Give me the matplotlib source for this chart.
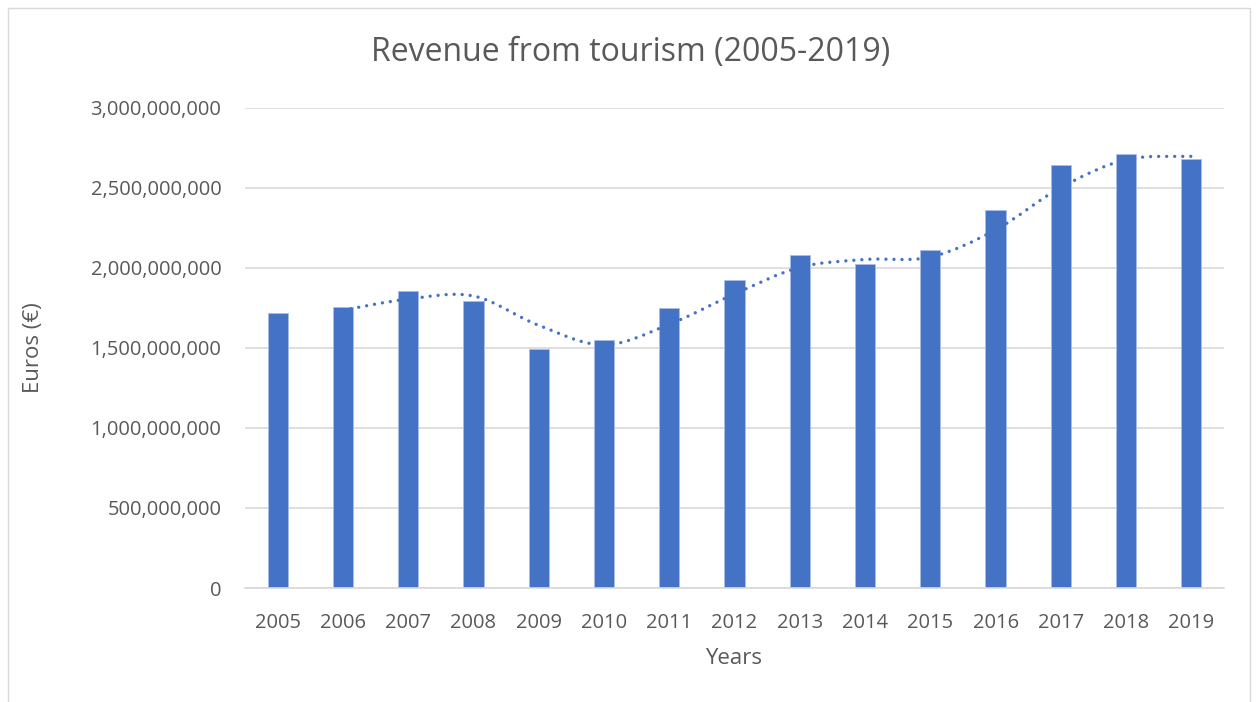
import numpy as np
import matplotlib.pyplot as plt
from matplotlib.patches import PathPatch, Rectangle
from matplotlib.path import Path
from matplotlib.ticker import FuncFormatter

# valeurs (euros)
years = [2005, 2006, 2007, 2008, 2009, 2010, 2011, 2012,
         2013, 2014, 2015, 2016, 2017, 2018, 2019]
revenue = [1.717e9, 1.752e9, 1.856e9, 1.790e9, 1.490e9, 1.546e9, 1.746e9, 1.925e9,
           2.079e9, 2.023e9, 2.110e9, 2.362e9, 2.639e9, 2.710e9, 2.680e9]
yticks = [0, 500e6, 1000e6, 1500e6, 2000e6, 2500e6, 3000e6]

blue = "#4472C4"
grey_txt = "#595959"
plt.rcParams['font.family'] = ['Open Sans', 'DejaVu Sans']

fig = plt.figure(figsize=(12.59, 7.02), dpi=100)
# cadre du graphique
fig.patches.append(Rectangle((8 / 1259, -0.01), 1242 / 1259, 1 - 8 / 702 + 0.01,
                             transform=fig.transFigure, fill=False,
                             edgecolor="#d9d9d9", lw=1))

ax = fig.add_axes([245 / 1259, 1 - 588 / 702, 979 / 1259, 480.5 / 702])
x = np.arange(len(years))
ax.bar(x, revenue, width=0.31, color=blue, edgecolor="#a9bfe6", linewidth=0.6, zorder=2)

# moyenne mobile sur 2 periodes, tracee lissee
ma = [(revenue[i - 1] + revenue[i]) / 2 for i in range(1, len(revenue))]
pts = np.column_stack([x[1:], ma])
ext = np.vstack([pts[0], pts, pts[-1]])
verts = [tuple(pts[0])]
codes = [Path.MOVETO]
for i in range(1, len(ext) - 2):
    p0, p1, p2, p3 = ext[i - 1], ext[i], ext[i + 1], ext[i + 2]
    verts += [tuple(p1 + (p2 - p0) / 6), tuple(p2 - (p3 - p1) / 6), tuple(p2)]
    codes += [Path.CURVE4] * 3
ax.add_patch(PathPatch(Path(verts, codes), fill=False, edgecolor=blue, lw=2.4,
                       linestyle=(0, (0.01, 2.4)), capstyle='round', zorder=3))

ax.set_xlim(-0.5, len(years) - 0.5)
ax.set_ylim(0, 3e9)
ax.set_xticks(x)
ax.set_xticklabels([str(y) for y in years])
ax.set_yticks(yticks)
ax.yaxis.set_major_formatter(FuncFormatter(lambda v, p: f"{int(v):,}"))
ax.tick_params(length=0, labelsize=14.5, colors=grey_txt)
ax.tick_params(axis='y', pad=17)
ax.tick_params(axis='x', pad=18)
ax.grid(axis='y', color="#d9d9d9", lw=1.2, zorder=0)
ax.set_axisbelow(True)
for s in ['top', 'right', 'left']:
    ax.spines[s].set_visible(False)
ax.spines['bottom'].set_color("#d9d9d9")
ax.spines['bottom'].set_linewidth(1.2)

fig.text(734 / 1259, 1 - 659 / 702, "Years", fontsize=16, color=grey_txt,
         ha='center', va='center')
fig.text(34 / 1259, 1 - 348 / 702, "Euros (€)", fontsize=16, color=grey_txt,
         ha='center', va='center', rotation=90)
fig.text(631 / 1259, 1 - 53 / 702, "Revenue from tourism (2005-2019)", fontsize=23,
         color=grey_txt, ha='center', va='center')

fig.savefig("out.png", dpi=100)
